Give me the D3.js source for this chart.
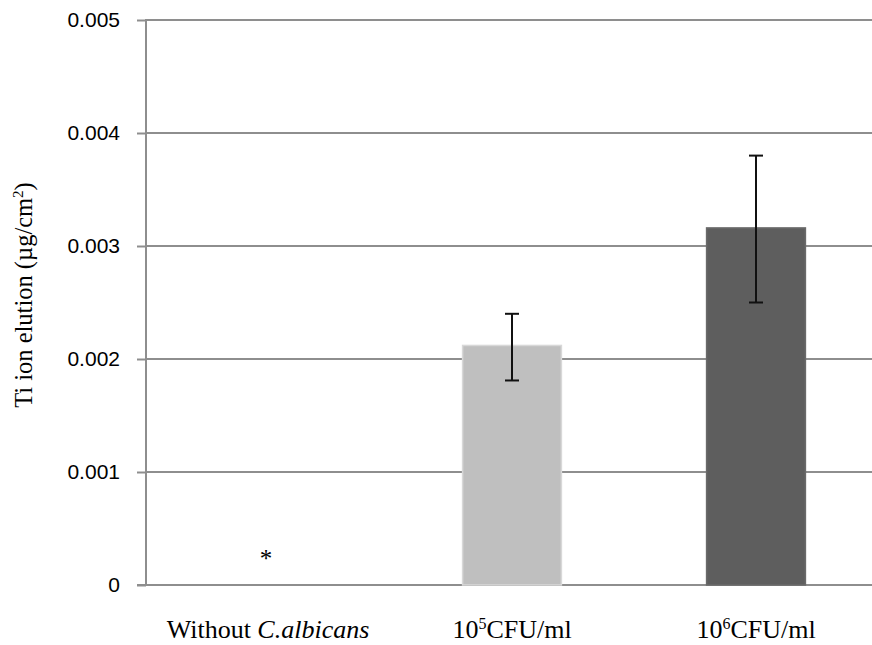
<!DOCTYPE html>
<html>
<head>
<meta charset="utf-8">
<script src="https://cdn.jsdelivr.net/npm/d3@7"></script>
<style>
  body { margin: 0; background: #fff; }
  svg { display: block; }
</style>
</head>
<body>
<svg width="872" height="645"></svg>
<script>
var svg = d3.select('svg');

// data
var categories = ['without', 'e5', 'e6'];
var labelParts = [
	[{t: 'Without ', s: 'normal'}, {t: 'C.albicans', s: 'italic'}],
	[{t: '10'}, {t: '5', sup: true}, {t: 'CFU/ml'}],
	[{t: '10'}, {t: '6', sup: true}, {t: 'CFU/ml'}]
];
var means = [0, 0.00212, 0.00316];
var errLow = [null, 0.00181, 0.0025];
var errHigh = [null, 0.0024, 0.0038];
var barColors = ['#ffffff', '#bfbfbf', '#5e5e5e'];
var marks = ['*', '', ''];
var yTicks = [0, 0.001, 0.002, 0.003, 0.004, 0.005];

var x = d3.scaleBand().domain(categories).range([146, 878]).paddingInner(0.595).paddingOuter(0.2975);
var y = d3.scaleLinear().domain([0, 0.005]).range([585, 20]);

// gridlines
svg.append('g').selectAll('line')
	.data(yTicks.slice(1))
	.enter().append('line')
	.attr('x1', 146).attr('x2', 878)
	.attr('y1', d => y(d)).attr('y2', d => y(d))
	.attr('stroke', '#8e8e8e').attr('stroke-width', 2);

// y axis
var yAxis = d3.axisLeft(y).tickValues(yTicks).tickSize(9).tickPadding(17)
	.tickFormat(d => d === 0 ? '0' : d3.format('.3f')(d));
var ag = svg.append('g').attr('transform', 'translate(146,0)').call(yAxis);
ag.select('.domain').remove();
ag.selectAll('.tick line').attr('stroke', '#8e8e8e').attr('stroke-width', 2);
ag.selectAll('.tick text')
	.attr('font-family', '"Liberation Sans", Arial, sans-serif')
	.attr('font-size', 21).attr('fill', '#000');
svg.append('line').attr('x1', 146).attr('x2', 146).attr('y1', y(0.005) - 1).attr('y2', y(0) + 1)
	.attr('stroke', '#8e8e8e').attr('stroke-width', 2);

// x baseline
svg.append('line').attr('x1', 137).attr('x2', 878).attr('y1', y(0)).attr('y2', y(0))
	.attr('stroke', '#8e8e8e').attr('stroke-width', 2);

// bars
var idx = d3.range(categories.length);
svg.append('g').selectAll('rect')
	.data(idx.filter(i => means[i] > 0))
	.enter().append('rect')
	.attr('x', i => x(categories[i]))
	.attr('width', x.bandwidth())
	.attr('y', i => y(means[i]))
	.attr('height', i => y(0) - y(means[i]))
	.attr('fill', i => barColors[i])
	.attr('stroke', i => d3.color(barColors[i]).brighter(0.35))
	.attr('stroke-width', 1.5);

// error bars
var eg = svg.append('g').selectAll('g')
	.data(idx.filter(i => errHigh[i] != null))
	.enter().append('g')
	.attr('stroke', '#111').attr('stroke-width', 2);
eg.append('line')
	.attr('x1', i => x(categories[i]) + x.bandwidth() / 2)
	.attr('x2', i => x(categories[i]) + x.bandwidth() / 2)
	.attr('y1', i => y(errHigh[i])).attr('y2', i => y(errLow[i]));
eg.append('line')
	.attr('x1', i => x(categories[i]) + x.bandwidth() / 2 - 7)
	.attr('x2', i => x(categories[i]) + x.bandwidth() / 2 + 7)
	.attr('y1', i => y(errHigh[i])).attr('y2', i => y(errHigh[i]));
eg.append('line')
	.attr('x1', i => x(categories[i]) + x.bandwidth() / 2 - 7)
	.attr('x2', i => x(categories[i]) + x.bandwidth() / 2 + 7)
	.attr('y1', i => y(errLow[i])).attr('y2', i => y(errLow[i]));

// significance marks
svg.append('g').selectAll('text')
	.data(idx.filter(i => marks[i]))
	.enter().append('text')
	.attr('x', i => x(categories[i]) + x.bandwidth() / 2 - 2)
	.attr('y', y(0) - 18)
	.attr('text-anchor', 'middle')
	.attr('font-family', '"Liberation Serif", "Times New Roman", serif')
	.attr('font-size', 25)
	.text(i => marks[i]);

// category labels
svg.append('g').selectAll('text')
	.data(idx)
	.enter().append('text')
	.attr('x', i => x(categories[i]) + x.bandwidth() / 2)
	.attr('y', 638)
	.attr('text-anchor', 'middle')
	.attr('font-family', '"Liberation Serif", "Times New Roman", serif')
	.attr('font-size', 26)
	.each(function (i) {
		var t = d3.select(this);
		labelParts[i].forEach(function (p) {
			var ts = t.append('tspan').text(p.t);
			if (p.s) ts.attr('font-style', p.s);
			if (p.sup) ts.attr('font-size', 16).attr('dy', -9);
			else if (labelParts[i].some(q => q.sup) && p.t !== '10') ts.attr('dy', 9);
		});
	});

// y title
svg.append('text')
	.attr('transform', 'translate(32,295) rotate(-90)')
	.attr('text-anchor', 'middle')
	.attr('font-family', '"Liberation Serif", "Times New Roman", serif')
	.attr('font-size', 24.5)
	.text('Ti ion elution (\u00b5g/cm')
	.append('tspan').attr('font-size', 15).attr('dy', -9).text('2')
	.select(function () { return this.parentNode; })
	.append('tspan').attr('dy', 9).text(')');
</script>
</body>
</html>
